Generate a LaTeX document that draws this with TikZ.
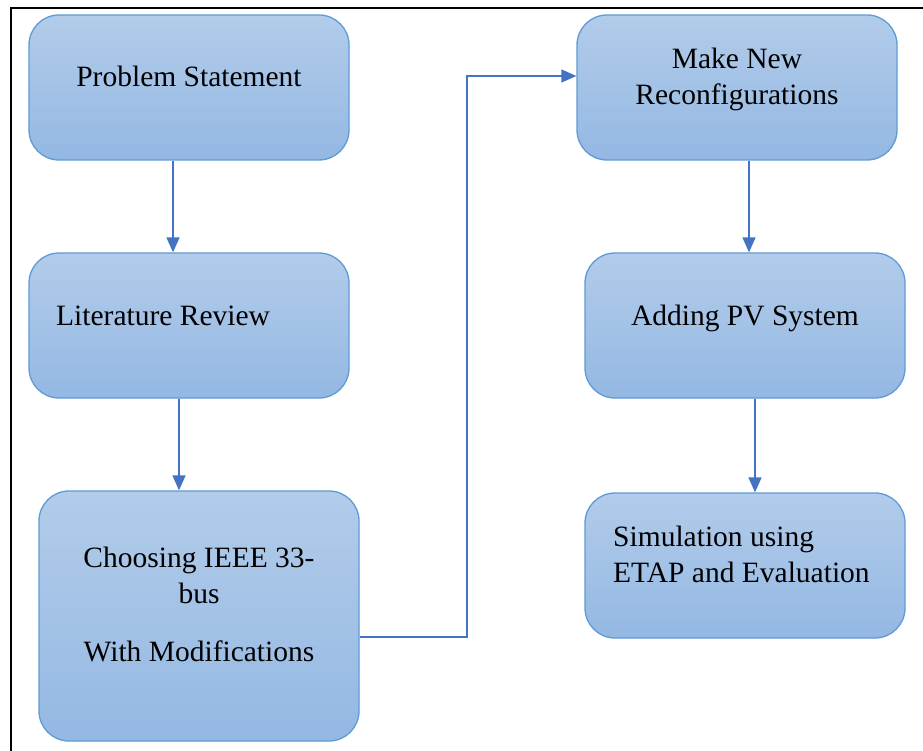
\documentclass[tikz,border=0pt]{standalone}
\usepackage{fontspec}
\setmainfont{Liberation Serif}
\usetikzlibrary{arrows.meta}
\definecolor{boxtop}{RGB}{178,204,234}
\definecolor{boxbot}{RGB}{148,184,227}
\definecolor{boxline}{RGB}{95,155,213}
\definecolor{arrowc}{RGB}{68,114,196}
\tikzset{
  box/.style={rectangle, rounded corners=30pt, draw=boxline, line width=1.3pt,
    top color=boxtop, bottom color=boxbot, inner sep=0pt},
  lbl/.style={font=\fontsize{29.5}{36}\selectfont, inner sep=0pt, text=black},
  conn/.style={draw=arrowc, line width=1.5pt, -{Triangle[length=15pt,width=13pt]}}
}
\begin{document}
\begin{tikzpicture}[x=1pt,y=-1pt]
\useasboundingbox (0,0) rectangle (923,751);
\fill[white] (0,0) rectangle (923,751);
\draw[line width=2pt, black] (10.5,751) -- (10.5,8) -- (923,8);
% boxes
\node[box, minimum width=320pt, minimum height=145pt] (ps) at (189,87.5) {};
\node[box, minimum width=320pt, minimum height=145pt] (lr) at (189,325.5) {};
\node[box, minimum width=320pt, minimum height=250pt] (ch) at (199,616) {};
\node[box, minimum width=320pt, minimum height=145pt] (mn) at (737,87.5) {};
\node[box, minimum width=320pt, minimum height=145pt] (pv) at (745,325.5) {};
\node[box, minimum width=320pt, minimum height=145pt] (si) at (745,565.5) {};
% texts
\node[lbl, anchor=base] (t1) at (189,87) {Problem Statement};
\node[lbl, anchor=base west] (t2) at (56,325) {Literature Review};
\node[lbl, anchor=base] (t3a) at (199,567) {Choosing IEEE 33-};
\node[lbl, anchor=base] (t3b) at (199,603) {bus};
\node[lbl, anchor=base] (t3c) at (199,661) {With Modifications};
\node[lbl, anchor=base] (t4a) at (737,69) {Make New};
\node[lbl, anchor=base] (t4b) at (737,105) {Reconfigurations};
\node[lbl, anchor=base] (t5) at (745,325) {Adding PV System};
\node[lbl, anchor=base west] (t6a) at (613,546) {Simulation using};
\node[lbl, anchor=base west] (t6b) at (613,582) {ETAP and Evaluation};
% connectors
\draw[conn] (ps.south -| 173,0) -- (lr.north -| 173,0);
\draw[conn] (lr.south -| 179,0) -- (ch.north -| 179,0);
\draw[conn] (ch.east |- 0,637) -- (467,637) -- (467,76) -- (mn.west |- 0,76);
\draw[conn] (mn.south -| 749,0) -- (pv.north -| 749,0);
\draw[conn] (pv.south -| 755,0) -- (si.north -| 755,0);
\end{tikzpicture}
\end{document}
